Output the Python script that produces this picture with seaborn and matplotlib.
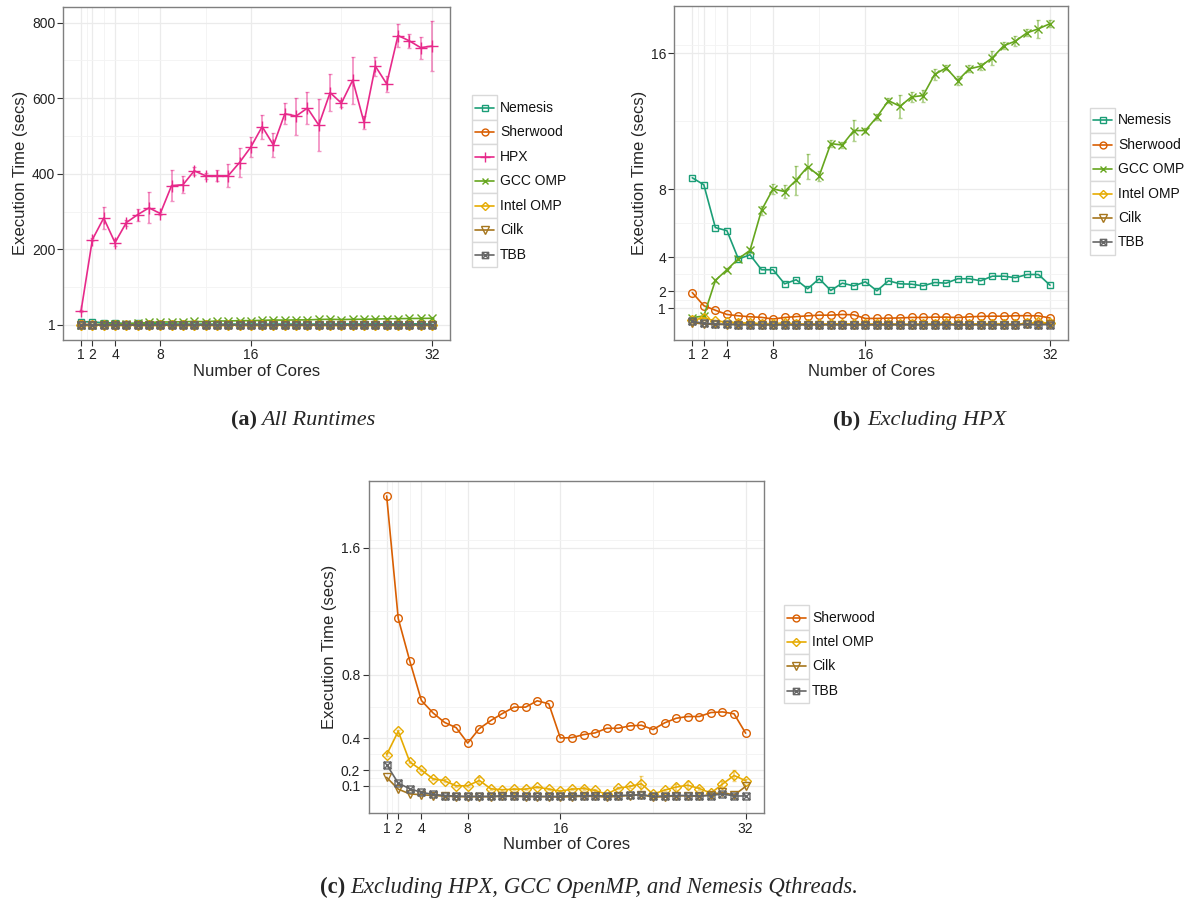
import numpy as np
import pandas as pd
import matplotlib
matplotlib.use("Agg")
import matplotlib.pyplot as plt
from matplotlib.path import Path
from matplotlib.lines import Line2D
from matplotlib.patches import Rectangle
import seaborn as sns

# ---------------- data ----------------
cores = list(range(1, 33))

nemesis = [8.68, 8.27, 5.75, 5.57, 3.90, 4.15, 3.27, 3.27, 2.44, 2.68, 2.15, 2.74,
           2.05, 2.48, 2.32, 2.56, 2.03, 2.62, 2.44, 2.42, 2.32, 2.52, 2.48, 2.74,
           2.74, 2.62, 2.89, 2.89, 2.80, 2.99, 2.99, 2.36]
sherwood = [1.925, 1.154, 0.886, 0.638, 0.56, 0.50, 0.467, 0.37, 0.461, 0.512, 0.556, 0.596,
            0.596, 0.636, 0.617, 0.402, 0.404, 0.423, 0.434, 0.463, 0.463, 0.478, 0.482, 0.455,
            0.497, 0.526, 0.537, 0.537, 0.562, 0.566, 0.554, 0.432]
hpx = [37, 226, 283, 218, 271, 292, 310, 295, 369, 371, 408, 395,
       395, 395, 430, 471, 525, 476, 559, 553, 574, 529, 615, 587,
       648, 536, 685, 638, 766, 752, 734, 738]
hpx_err = [3, 3, 28, 10, 8, 16, 41, 5, 40, 22, 10, 8,
           14, 30, 38, 26, 32, 32, 28, 49, 43, 68, 48, 9,
           62, 18, 25, 22, 31, 18, 29, 66]
gcc = [0.45, 0.55, 2.64, 3.27, 3.92, 4.41, 6.77, 8.03, 7.87, 8.54, 9.33, 8.80,
       10.69, 10.61, 11.46, 11.46, 12.26, 13.22, 12.89, 13.44, 13.52, 14.76, 15.15, 14.40,
       15.09, 15.25, 15.74, 16.46, 16.72, 17.21, 17.45, 17.75]
gcc_err = [0.05, 0.05, 0.1, 0.1, 0.1, 0.15, 0.25, 0.3, 0.37, 0.85, 0.75, 0.3,
           0.2, 0.15, 0.62, 0.15, 0.2, 0.15, 0.67, 0.3, 0.35, 0.33, 0.15, 0.25,
           0.2, 0.2, 0.4, 0.2, 0.3, 0.2, 0.53, 0.2]
intel = [0.297, 0.444, 0.251, 0.20, 0.145, 0.133, 0.101, 0.101, 0.135, 0.082, 0.076, 0.080,
         0.080, 0.093, 0.080, 0.067, 0.080, 0.084, 0.072, 0.048, 0.086, 0.097, 0.114, 0.048,
         0.074, 0.093, 0.105, 0.084, 0.055, 0.112, 0.166, 0.133]
intel_err = [0.008, 0.008, 0.008, 0.008, 0.008, 0.008, 0.008, 0.008, 0.02, 0.008, 0.008, 0.008,
             0.008, 0.008, 0.008, 0.008, 0.008, 0.008, 0.008, 0.008, 0.008, 0.01, 0.05, 0.008,
             0.008, 0.02, 0.025, 0.008, 0.008, 0.02, 0.035, 0.01]
cilk = [0.154, 0.08, 0.05, 0.045, 0.04, 0.036, 0.033, 0.032, 0.032, 0.032, 0.035, 0.035,
        0.033, 0.033, 0.032, 0.03, 0.033, 0.035, 0.035, 0.03, 0.035, 0.04, 0.045, 0.03,
        0.032, 0.038, 0.038, 0.035, 0.045, 0.06, 0.042, 0.097]
tbb = [0.234, 0.118, 0.082, 0.06, 0.047, 0.04, 0.036, 0.035, 0.035, 0.035, 0.038, 0.037,
       0.036, 0.034, 0.035, 0.034, 0.04, 0.038, 0.04, 0.036, 0.04, 0.042, 0.045, 0.035,
       0.037, 0.04, 0.04, 0.037, 0.04, 0.05, 0.037, 0.037]

x_ticks = [1, 2, 4, 8, 16, 32]
y_ticks_a = [1, 200, 400, 600, 800]
y_ticks_b = [1, 2, 4, 8, 16]
y_ticks_c = [0.1, 0.2, 0.4, 0.8, 1.6]

# ---------------- style ----------------
sns.set_theme(style="white")
plt.rcParams["font.family"] = ["Liberation Sans", "DejaVu Sans"]

W, H = 1187, 905
fig = plt.figure(figsize=(W / 100, H / 100), dpi=100)

# custom "square with X" marker (ggplot shape 7)
boxtimes = Path([(-1, -1), (1, -1), (1, 1), (-1, 1), (-1, -1), (-1, -1), (1, 1), (-1, 1), (1, -1)],
                [Path.MOVETO, Path.LINETO, Path.LINETO, Path.LINETO, Path.CLOSEPOLY,
                 Path.MOVETO, Path.LINETO, Path.MOVETO, Path.LINETO])

series = {
    "Nemesis": dict(y=nemesis, err=None, color="#1B9E77", marker="s", ms=5),
    "Sherwood": dict(y=sherwood, err=None, color="#D95F02", marker="o", ms=5.5),
    "HPX": dict(y=hpx, err=hpx_err, color="#E7298A", marker="+", ms=8),
    "GCC OMP": dict(y=gcc, err=gcc_err, color="#66A61E", marker="x", ms=5.5),
    "Intel OMP": dict(y=intel, err=intel_err, color="#E6AB02", marker="D", ms=5),
    "Cilk": dict(y=cilk, err=None, color="#A6761D", marker="v", ms=6),
    "TBB": dict(y=tbb, err=None, color="#666666", marker=boxtimes, ms=5),
}


def px_axes(left, right, top, bottom):
    return fig.add_axes([left / W, 1 - bottom / H, (right - left) / W, (bottom - top) / H])


def draw_panel(ax, names, ylim, yticks, yminor, yticklabels):
    for name in names:
        s = series[name]
        df = pd.DataFrame({"cores": cores, "time": s["y"]})
        if s["err"] is not None:
            ax.errorbar(cores, s["y"], yerr=s["err"], fmt="none", ecolor=s["color"],
                        alpha=0.5, elinewidth=1.3, capsize=1.5, capthick=1.0, zorder=2)
        sns.lineplot(data=df, x="cores", y="time", ax=ax, color=s["color"],
                     marker=s["marker"], markersize=s["ms"], markerfacecolor="none",
                     markeredgecolor=s["color"], markeredgewidth=1.0, linewidth=1.2,
                     errorbar=None, legend=False, zorder=3)
    ax.set_xlim(-0.55, 33.55)
    ax.set_ylim(*ylim)
    ax.set_xticks(x_ticks)
    ax.set_xticklabels([str(t) for t in x_ticks])
    ax.set_xticks([1.5, 3, 6, 12, 24], minor=True)
    ax.set_yticks(yticks)
    ax.set_yticklabels(yticklabels)
    ax.set_yticks(yminor, minor=True)
    ax.grid(True, which="major", color="#ebebeb", linewidth=0.9, zorder=0)
    ax.grid(True, which="minor", color="#f3f3f3", linewidth=0.6, zorder=0)
    ax.set_axisbelow(True)
    for sp in ax.spines.values():
        sp.set_color("#7f7f7f")
        sp.set_linewidth(1.0)
    ax.tick_params(which="major", direction="out", length=4, width=0.8, color="#333333",
                   labelsize=10, labelcolor="#222222", pad=2, bottom=True, left=True)
    ax.tick_params(which="minor", length=0)
    ax.set_xlabel("Number of Cores", fontsize=12, labelpad=1)
    ax.set_ylabel("Execution Time (secs)", fontsize=12, labelpad=3)


def draw_legend(names, x0, ys):
    for name, yc in zip(names, ys):
        s = series[name]
        fig.add_artist(Rectangle(((x0) / W, 1 - (yc + 12.2) / H), 25 / W, 24.4 / H,
                                 transform=fig.transFigure, facecolor="white",
                                 edgecolor="#d9d9d9", linewidth=1.0))
        fig.add_artist(Line2D([(x0 + 3) / W, (x0 + 22) / W], [1 - yc / H, 1 - yc / H],
                              transform=fig.transFigure, color=s["color"], linewidth=1.2))
        fig.add_artist(Line2D([(x0 + 12.5) / W], [1 - yc / H], transform=fig.transFigure,
                              marker=s["marker"], markersize=s["ms"] * 0.9,
                              markerfacecolor="none", markeredgecolor=s["color"],
                              markeredgewidth=1.0, linestyle="none"))
        fig.text((x0 + 28) / W, 1 - yc / H, name, fontsize=10, va="center", ha="left",
                 color="#111111")


all_names = ["Nemesis", "Sherwood", "HPX", "GCC OMP", "Intel OMP", "Cilk", "TBB"]
b_names = ["Nemesis", "Sherwood", "GCC OMP", "Intel OMP", "Cilk", "TBB"]
c_names = ["Sherwood", "Intel OMP", "Cilk", "TBB"]

ax_a = px_axes(63.5, 449.5, 6.7, 340)
draw_panel(ax_a, all_names, (-39.7, 842.3), y_ticks_a, [100.5, 300, 500, 700],
           [str(t) for t in y_ticks_a])

ax_b = px_axes(674.4, 1067.9, 6, 340)
draw_panel(ax_b, b_names, (-0.865, 18.79), y_ticks_b, [1.5, 3, 6, 12, 16.5],
           [str(t) for t in y_ticks_b])

ax_c = px_axes(368.7, 763.6, 480.7, 813.3)
draw_panel(ax_c, c_names, (-0.072, 2.021), y_ticks_c, [0.15, 0.3, 0.6, 1.2, 1.65],
           ["0.1", "0.2", "0.4", "0.8", "1.6"])

draw_legend(all_names, 472, [107.7, 132.2, 156.7, 181.2, 205.7, 230.2, 254.7])
draw_legend(b_names, 1090, [120.5, 144.9, 169.3, 193.7, 218.1, 242.5])
draw_legend(c_names, 784, [617.5, 641.9, 666.3, 690.7])

# captions
def caption(xb, xi, y, label, text, size=16):
    fig.text(xb / W, 1 - y / H, label, fontsize=size, fontweight="bold",
             family=["Liberation Serif", "DejaVu Serif"], ha="left", va="baseline")
    fig.text(xi / W, 1 - y / H, text, fontsize=size, style="italic",
             family=["Liberation Serif", "DejaVu Serif"], ha="left", va="baseline")

caption(231, 261, 425, "(a)", "All Runtimes")
caption(833, 867, 425, "(b)", "Excluding HPX")
caption(320, 350, 893, "(c)", "Excluding HPX, GCC OpenMP, and Nemesis Qthreads.", 16.4)

fig.savefig("out.png", dpi=100)
